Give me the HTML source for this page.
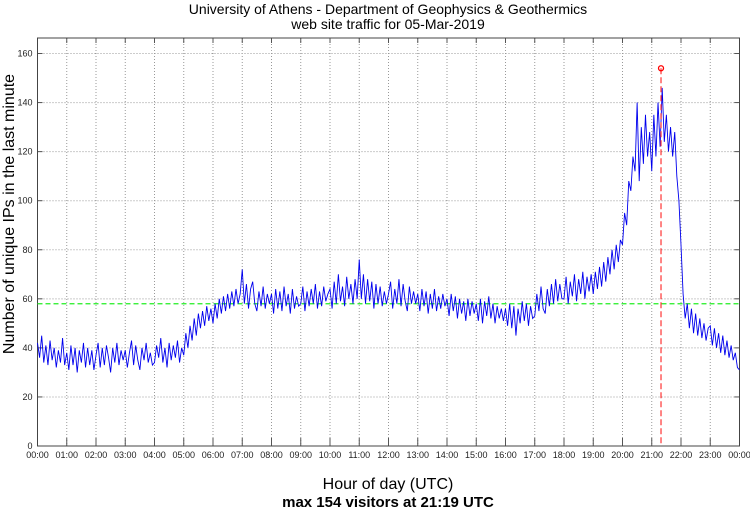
<!DOCTYPE html>
<html><head><meta charset="utf-8">
<style>
body{margin:0;background:#fff;}
svg{display:block;font-family:"Liberation Sans",sans-serif;}
</style></head>
<body>
<svg id="chart" width="750" height="511" viewBox="0 0 750 511">
<text x="388" y="14" text-anchor="middle" font-size="14">University of Athens - Department of Geophysics &amp; Geothermics</text>
<text x="388" y="29" text-anchor="middle" font-size="14">web site traffic for 05-Mar-2019</text>
<g id="grid"></g>
<g id="axes"></g>
<g id="series"></g>
<text x="388" y="489" text-anchor="middle" font-size="16">Hour of day (UTC)</text>
<text x="388" y="507" text-anchor="middle" font-size="15" font-weight="bold">max 154 visitors at 21:19 UTC</text>
<text transform="translate(14,214) rotate(-90)" text-anchor="middle" font-size="16">Number of unique IPs in the last minute</text>
</svg>
<script>
const yTicks=[0,20,40,60,80,100,120,140,160];
const xTickLabels=["00:00","01:00","02:00","03:00","04:00","05:00","06:00","07:00","08:00","09:00","10:00","11:00","12:00","13:00","14:00","15:00","16:00","17:00","18:00","19:00","20:00","21:00","22:00","23:00","00:00"];
const h0=[42,36,45,34,41,33,43,35,40,32,39,34,44,33];
const h1=[38,31,41,33,40,30,39,34,42,32,40,33,39,31];
const h2=[37,42,32,40,33,41,36,30,40,34,42,33,39,35];
const h3=[39,32,38,43,33,41,35,31,40,35,42,34,38,33];
const h4=[34,41,36,44,34,40,32,42,35,41,36,43,34,40];
const h5=[37,46,40,49,43,52,45,54,48,55,49,57,51,56];
const h6=[50,58,52,60,54,61,55,62,56,63,57,64,58,62];
const h7=[72,58,66,56,64,67,58,55,63,57,65,56,62,58];
const h8=[62,54,64,56,63,55,65,57,62,54,64,56,61,57];
const h9=[58,65,55,63,57,64,58,66,56,63,57,65,59,62];
const h10=[64,56,67,58,70,59,65,57,69,60,66,58,68,60];
const h11=[76,60,70,58,68,59,67,56,66,58,65,57,63,58];
const h12=[62,67,56,64,58,68,57,66,59,55,65,58,63,58];
const h13=[62,55,64,57,63,54,62,56,64,55,61,56,62,57];
const h14=[60,53,62,55,61,52,60,54,59,51,60,53,59,54];
const h15=[58,51,60,50,59,53,61,52,58,50,57,52,56,51];
const h16=[56,49,58,48,57,45,56,50,59,51,58,49,57,52];
const h17=[53,62,55,65,56,54,64,57,66,58,68,59,66,60];
const h18=[60,69,58,67,61,70,59,68,62,71,60,69,63,70];
const h19=[62,71,64,73,65,75,67,77,70,80,72,82,75,84];
const h20=[82,95,90,108,104,118,112,140,108,130,115,135,118,128];
const h21=[112,135,118,140,122,146,124,135,120,130,118,128,110,100];
const h22=[82,62,52,58,48,56,46,54,45,52,44,50,43,48];
const h23=[49,41,48,40,46,38,45,37,43,36,41,35,38,32];
const hEnd=[31];
const values=[].concat(h0,h1,h2,h3,h4,h5,h6,h7,h8,h9,h10,h11,h12,h13,h14,h15,h16,h17,h18,h19,h20,h21,h22,h23,hEnd);
const avgValue=[58];
const maxPoint=[21+19/60,154];

const L=37.5,R=739.5,T=38,B=446,YMAX=160;
const NS="http://www.w3.org/2000/svg";
function sx(h){return L+h/24*(R-L);}
function sy(v){return B-v/YMAX*(B-53.5);}
function mk(tag,attrs,parent){const e=document.createElementNS(NS,tag);for(const k in attrs)e.setAttribute(k,attrs[k]);parent.appendChild(e);return e;}
const grid=document.getElementById('grid'),axes=document.getElementById('axes'),series=document.getElementById('series');

yTicks.forEach(v=>{
  if(v>0){const g=mk('line',{x1:L,x2:R,y1:sy(v),y2:sy(v),stroke:'#999','stroke-dasharray':'1,2'},grid);
  
  }
  const t=mk('text',{x:L-5,y:sy(v)+3,'text-anchor':'end','font-size':'9',fill:'#222'},axes);
  t.textContent=v;
  
  
  mk('line',{x1:L,x2:L+5,y1:sy(v),y2:sy(v),stroke:'#555'},axes);
  mk('line',{x1:R-5,x2:R,y1:sy(v),y2:sy(v),stroke:'#555'},axes);
});
xTickLabels.forEach((lab,i)=>{
  const x=sx(i);
  if(i>0&&i<24){const g=mk('line',{x1:x,x2:x,y1:T,y2:B,stroke:'#999','stroke-dasharray':'1,2'},grid);
  
  }
  mk('line',{x1:x,x2:x,y1:B-8,y2:B,stroke:'#555'},axes);
  mk('line',{x1:x,x2:x,y1:T,y2:T+5,stroke:'#555'},axes);
  const t=mk('text',{x:x,y:B+12,'text-anchor':'middle','font-size':'9',fill:'#222'},axes);
  t.textContent=lab;
  
  
});
const fr=mk('rect',{x:L,y:T,width:R-L,height:B-T,fill:'none',stroke:'#444'},axes);



const avg=mk('line',{x1:L,x2:R,y1:sy(avgValue[0]),y2:sy(avgValue[0]),stroke:'#22ee22','stroke-dasharray':'5,3','stroke-width':1.2},series);



const n=values.length-1;
const pts=values.map((v,i)=>sx(i*24/n).toFixed(2)+','+sy(v).toFixed(2)).join(' ');
const line=mk('polyline',{points:pts,fill:'none',stroke:'#0000ee','stroke-width':0.9},series);



const mx=sx(maxPoint[0]),my=sy(maxPoint[1]);
const vl=mk('line',{x1:mx,x2:mx,y1:my,y2:B,stroke:'#ff3333','stroke-dasharray':'6,3','stroke-width':1.2},series);


const mc=mk('circle',{cx:mx,cy:my,r:2.5,fill:'none',stroke:'#ff0000','stroke-width':1.3},series);


</script>
</body></html>
